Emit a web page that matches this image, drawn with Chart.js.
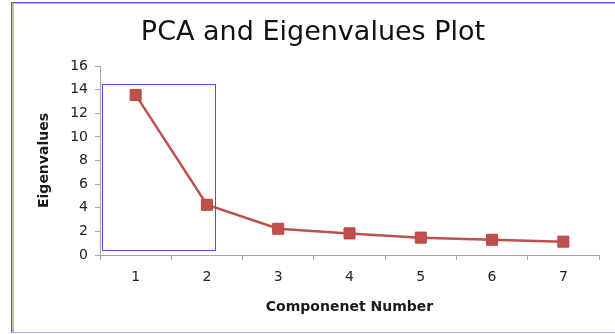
<!DOCTYPE html>
<html>
<head>
<meta charset="utf-8">
<title>PCA and Eigenvalues Plot</title>
<script src="https://cdn.jsdelivr.net/npm/chart.js@4.4.1/dist/chart.umd.min.js"></script>
<style>
  html, body { margin:0; padding:0; background:#fff; overflow:hidden; }
  body { width:615px; height:334px; position:relative; }
  /* frame round the chart, like the pasted Excel object (runs off the right edge) */
  #frame {
    position:absolute; left:11px; top:2px; width:660px; height:329px;
    border-left:1px solid #5c5cd8; border-top:1px solid #5c5cd8; border-bottom:1px solid #a9a9ee;
    box-shadow: inset 2px 1px 0 #bcbcbc;
  }
  #scree { position:absolute; left:11px; top:0; }
</style>
</head>
<body>
<div id="frame"></div>
<canvas id="scree" width="604" height="334"></canvas>
<script>
// Data
const components  = ["1", "2", "3", "4", "5", "6", "7"];
const eigenvalues = [13.55, 4.25, 2.22, 1.83, 1.47, 1.29, 1.13];
const yTicks      = [0, 2, 4, 6, 8, 10, 12, 14, 16];

// highlight box round the first two components (category index / eigenvalue units)
const boxX = [-0.47, 1.11];
const boxY = [0.42, 14.48];

const lineColor = "#c0504d"; // excel red
const axisColor = "#a6a6a6";
const font = "'DejaVu Sans', sans-serif";

// Box plugin
const boxPlugin = {
  id: "screeBox",
  afterDatasetsDraw(chart) {
    const { ctx, scales: { x, y } } = chart;
    const l = Math.round(x.getPixelForValue(boxX[0])) + 0.5;
    const r = Math.round(x.getPixelForValue(boxX[1])) + 0.5;
    const t = Math.round(y.getPixelForValue(boxY[1])) + 0.5;
    const b = Math.round(y.getPixelForValue(boxY[0])) + 0.5;
    ctx.save();
    ctx.strokeStyle = "#4d4df0";
    ctx.lineWidth = 1;
    ctx.strokeRect(l, t, r - l, b - t);
    ctx.restore();
  }
};

const chart = new Chart(document.getElementById("scree"), {
  type: "line",
  data: {
    labels: components,
    datasets: [{
      label: "Eigenvalues",
      data: eigenvalues,
      borderColor: lineColor,
      borderWidth: 2.5,
      backgroundColor: lineColor,
      pointStyle: "rect",
      pointRadius: 7.8,
      pointBorderWidth: 1,
      pointBorderColor: "#b84744",
      pointBackgroundColor: lineColor,
      tension: 0
    }]
  },
  options: {
    responsive: false,
    animation: false,
    devicePixelRatio: 1,
    // equal side padding keeps the title centred in the frame
    layout: { padding: { left: 16, right: 16, top: 0, bottom: 0 } },
    plugins: {
      legend: { display: false },
      tooltip: { enabled: false },
      title: {
        display: true,
        text: "PCA and Eigenvalues Plot",
        color: "#111",
        font: { family: font, size: 27, weight: "normal" },
        padding: { top: 17, bottom: 16.6 }
      }
    },
    scales: {
      x: {
        type: "category",
        offset: true,
        grid: { offset: true, drawOnChartArea: false, tickLength: 5, color: axisColor },
        border: { color: axisColor },
        ticks: { color: "#222", padding: 9, font: { family: font, size: 14 }, maxRotation: 0 },
        title: {
          display: true,
          text: "Componenet Number",
          color: "#1a1a1a",
          font: { family: font, size: 14, weight: "bold" },
          padding: { top: 0, bottom: 18.5 }
        },
        afterFit: (scale) => { scale.height = 79; }
      },
      y: {
        min: 0,
        max: 16,
        afterBuildTicks: (scale) => { scale.ticks = yTicks.map(v => ({ value: v })); },
        grid: { drawOnChartArea: false, tickLength: 5, color: axisColor },
        border: { color: axisColor },
        ticks: { color: "#222", padding: 7, font: { family: font, size: 14 } },
        title: {
          display: true,
          text: "Eigenvalues",
          color: "#1a1a1a",
          font: { family: font, size: 14, weight: "bold" },
          padding: { top: 8.6, bottom: 0 }
        },
        afterFit: (scale) => { scale.width = 73; }
      }
    }
  },
  plugins: [boxPlugin]
});
</script>
</body>
</html>
